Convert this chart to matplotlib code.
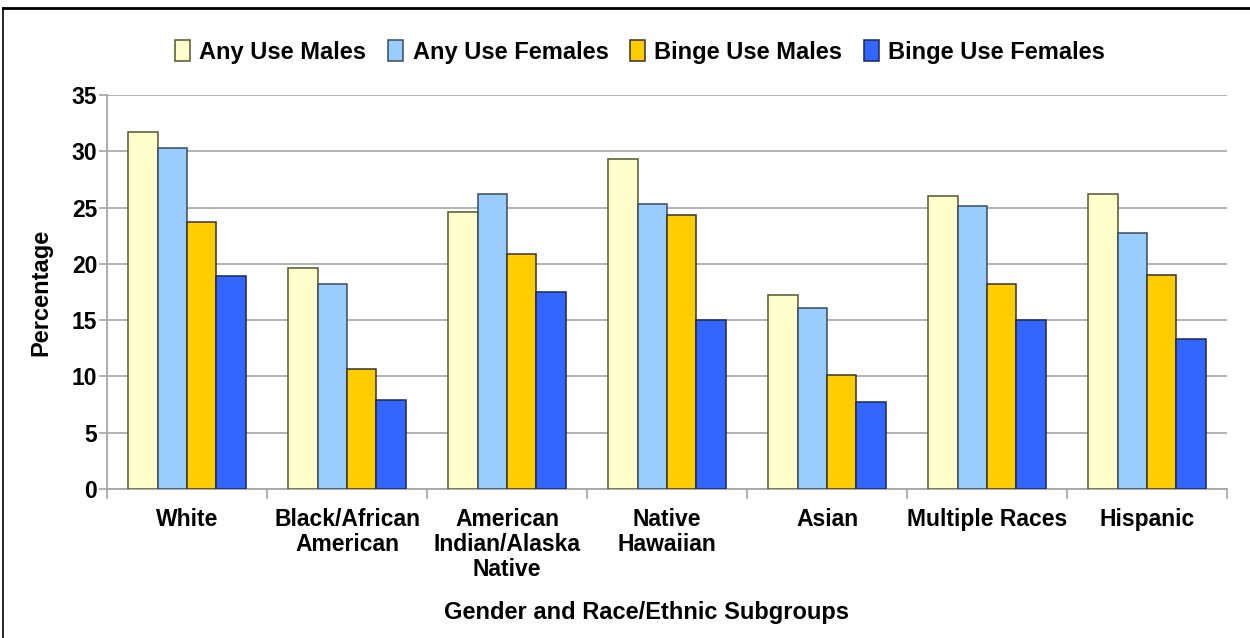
import matplotlib
matplotlib.use("Agg")
import matplotlib.pyplot as plt
from matplotlib.lines import Line2D
import numpy as np

plt.rcParams['font.family'] = ['Liberation Sans', 'DejaVu Sans']
plt.rcParams['font.weight'] = 'bold'

categories = ["White", "Black/African\nAmerican", "American\nIndian/Alaska\nNative",
              "Native\nHawaiian", "Asian", "Multiple Races", "Hispanic"]
series_names = ["Any Use Males", "Any Use Females", "Binge Use Males", "Binge Use Females"]
any_use_males = [31.7, 19.6, 24.6, 29.3, 17.2, 26.0, 26.2]
any_use_females = [30.3, 18.2, 26.2, 25.3, 16.1, 25.1, 22.7]
binge_use_males = [23.7, 10.7, 20.9, 24.3, 10.1, 18.2, 19.0]
binge_use_females = [18.9, 7.9, 17.5, 15.0, 7.7, 15.0, 13.3]
y_ticks = [0, 5, 10, 15, 20, 25, 30, 35]

series = [any_use_males, any_use_females, binge_use_males, binge_use_females]
fills = ["#FFFFCC", "#99CCFF", "#FFCC00", "#3366FF"]
edges = ["#55552e", "#3a4a5a", "#333333", "#1a2a55"]

W, H = 1250, 638
fig = plt.figure(figsize=(W / 100, H / 100), dpi=100)
fig.patch.set_facecolor("white")
ax = fig.add_axes([107 / W, 1 - 489 / H, (1227 - 107) / W, (489 - 95) / H])

x = np.arange(len(categories))
bw = 0.183
offsets = (np.arange(4) - 1.5) * bw
handles = []
for vals, off, fc, ec, name in zip(series, offsets, fills, edges, series_names):
    b = ax.bar(x + off, vals, width=bw, color=fc, edgecolor=ec, linewidth=1.1,
               label=name, zorder=3)
    handles.append(b)

ax.set_xlim(-0.5, len(categories) - 0.5)
ax.set_ylim(0, 35)
ax.set_yticks(y_ticks)
ax.yaxis.grid(True, color="#A6A6A6", linewidth=1.2, zorder=0)
ax.set_axisbelow(True)

for s in ["top", "right"]:
    ax.spines[s].set_visible(False)
for s in ["left", "bottom"]:
    ax.spines[s].set_color("#A6A6A6")
    ax.spines[s].set_linewidth(1.3)

ax.tick_params(axis="y", length=6, width=1.2, color="#A6A6A6", pad=1,
               labelsize=16.5, labelcolor="black")
ax.set_yticklabels([str(v) for v in y_ticks], fontweight="bold")

ax.set_xticks(x)
ax.set_xticklabels(categories, fontsize=16.5, fontweight="bold", linespacing=1.1,
                   va="top")
ax.set_xticks(np.arange(len(categories) + 1) - 0.5, minor=True)
ax.tick_params(axis="x", which="major", length=0, pad=14)
ax.tick_params(axis="x", which="minor", length=7, width=1.2, color="#A6A6A6")

ax.set_ylabel("Percentage", fontsize=17, fontweight="bold", labelpad=14)
fig.text(647 / W, 1 - 613 / H, "Gender and Race/Ethnic Subgroups", ha="center",
         va="center", fontsize=17, fontweight="bold")

fig.legend(handles=handles, labels=series_names, loc="center",
           bbox_to_anchor=(640 / W, 1 - 52 / H), ncol=4, frameon=False,
           handlelength=0.65, handleheight=1.0, handletextpad=0.4,
           columnspacing=0.9, prop={"weight": "bold", "size": 17})

# outer frame lines
fig.add_artist(Line2D([3 / W, 1.0], [1 - 8 / H, 1 - 8 / H], color="black",
                      linewidth=2, transform=fig.transFigure))
fig.add_artist(Line2D([3 / W, 3 / W], [1 - 8 / H, 0.0], color="black",
                      linewidth=1.2, transform=fig.transFigure))

fig.savefig("out.png", dpi=100, facecolor="white")
